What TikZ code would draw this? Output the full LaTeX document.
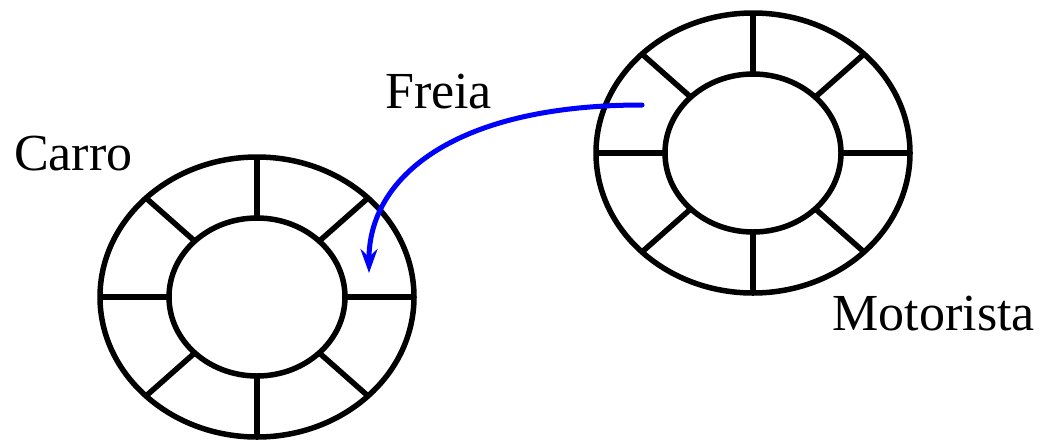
\documentclass[tikz,border=0pt]{standalone}
\usepackage{fontspec}
\setmainfont{Liberation Serif}
\usetikzlibrary{arrows.meta,calc}
\begin{document}
\begin{tikzpicture}[x=1pt,y=-1pt,
  ring/.style={line width=5.5pt,black},
  lbl/.style={inner sep=0pt,font=\fontsize{52}{60}\selectfont},
  msg/.style={line width=5pt,blue,line cap=round,-{Stealth[length=24pt,width=17pt,inset=8pt]}}]
\useasboundingbox (0,0) rectangle (1043,440);
% left object (Carro)
\coordinate (L) at (257,297);
\draw[ring] (L) ellipse [x radius=157, y radius=140];
\draw[ring] (L) ellipse [x radius=88, y radius=79];
\foreach \a in {0,45,...,315}{
  \draw[ring] ($(L)+({88*cos(\a)},{79*sin(\a)})$) -- ($(L)+({157*cos(\a)},{140*sin(\a)})$);
}
% right object (Motorista)
\coordinate (R) at (753,153);
\draw[ring] (R) ellipse [x radius=157, y radius=140];
\draw[ring] (R) ellipse [x radius=88, y radius=79];
\foreach \a in {0,45,...,315}{
  \draw[ring] ($(R)+({88*cos(\a)},{79*sin(\a)})$) -- ($(R)+({157*cos(\a)},{140*sin(\a)})$);
}
\node[lbl,anchor=base west] (carro) at (14,170) {Carro};
\node[lbl,anchor=base west] (freia) at (385,108) {Freia};
\node[lbl,anchor=base east] (motorista) at (1035,330) {Motorista};
\coordinate (s) at (642,105);
\coordinate (t) at (369,273);
\draw[msg] (s) .. controls (450,105) and (369,180) .. (t);
\end{tikzpicture}
\end{document}
